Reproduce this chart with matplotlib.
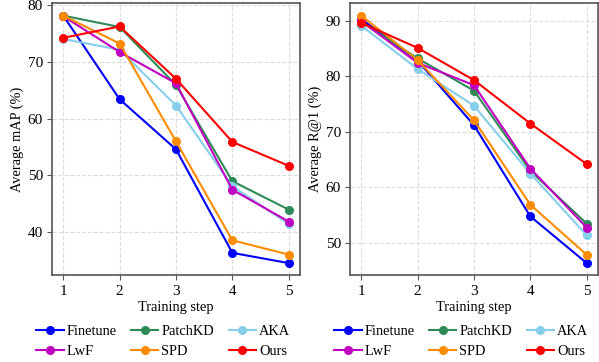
import matplotlib
matplotlib.use("Agg")
import matplotlib.pyplot as plt

plt.rcParams['font.family'] = ['Liberation Serif', 'DejaVu Serif']
plt.rcParams['font.size'] = 10

steps = [1, 2, 3, 4, 5]
methods = ["Finetune", "PatchKD", "AKA", "LwF", "SPD", "Ours"]
colors = ["#0000ff", "#2e8b57", "#87ceeb", "#c000c0", "#ff8c00", "#ff0000"]

map_finetune = [78.1, 63.4, 54.6, 36.4, 34.6]
map_patchkd = [78.1, 76.1, 65.9, 49.0, 44.0]
map_aka = [74.0, 72.1, 62.3, 48.1, 41.5]
map_lwf = [78.0, 71.7, 66.2, 47.5, 41.9]
map_spd = [78.1, 73.2, 56.0, 38.6, 36.1]
map_ours = [74.2, 76.2, 67.0, 55.9, 51.7]

r1_finetune = [90.3, 82.8, 71.2, 54.8, 46.4]
r1_patchkd = [89.8, 83.2, 77.4, 63.0, 53.5]
r1_aka = [89.1, 81.3, 74.7, 62.5, 51.4]
r1_lwf = [89.9, 82.4, 78.4, 63.4, 52.8]
r1_spd = [90.9, 82.9, 72.1, 56.9, 47.9]
r1_ours = [89.6, 85.1, 79.3, 71.5, 64.2]

map_data = [map_finetune, map_patchkd, map_aka, map_lwf, map_spd, map_ours]
r1_data = [r1_finetune, r1_patchkd, r1_aka, r1_lwf, r1_spd, r1_ours]

fig = plt.figure(figsize=(5.99, 3.62), dpi=100)
ax1 = fig.add_axes([0.0868, 0.2390, 0.414, 0.752])
ax2 = fig.add_axes([0.5843, 0.2390, 0.414, 0.752])

# legend order: row-wise in reference -> column-major reorder for ncol=3
order = [0, 3, 1, 4, 2, 5]

for ax, data, ylabel in [(ax1, map_data, "Average mAP (%)"), (ax2, r1_data, "Average R@1 (%)")]:
    handles = []
    for name, vals, c in zip(methods, data, colors):
        h, = ax.plot(steps, vals, '-o', color=c, label=name, lw=1.5, markersize=5.5)
        handles.append(h)
    ax.grid(True, linestyle='--', color='#dddddd', lw=0.8)
    ax.set_axisbelow(True)
    ax.set_xticks(steps)
    ax.set_xlabel("Training step", fontsize=10.4, labelpad=2.5)
    ax.set_ylabel(ylabel, fontsize=10.4, labelpad=3)
    for s in ax.spines.values():
        s.set_color('#555555')
        s.set_linewidth(1.2)
    ax.tick_params(labelsize=11, color='#555555', length=3.5, pad=3)
    ax.legend([handles[i] for i in order], [methods[i] for i in order],
              ncol=3, loc='center', bbox_to_anchor=(0.448, -0.242), frameon=False,
              fontsize=10.4, handlelength=1.9, handletextpad=0.2, columnspacing=1.0,
              labelspacing=0.5, borderaxespad=0, borderpad=0, markerscale=1.0)

fig.savefig("out.png", dpi=100)
